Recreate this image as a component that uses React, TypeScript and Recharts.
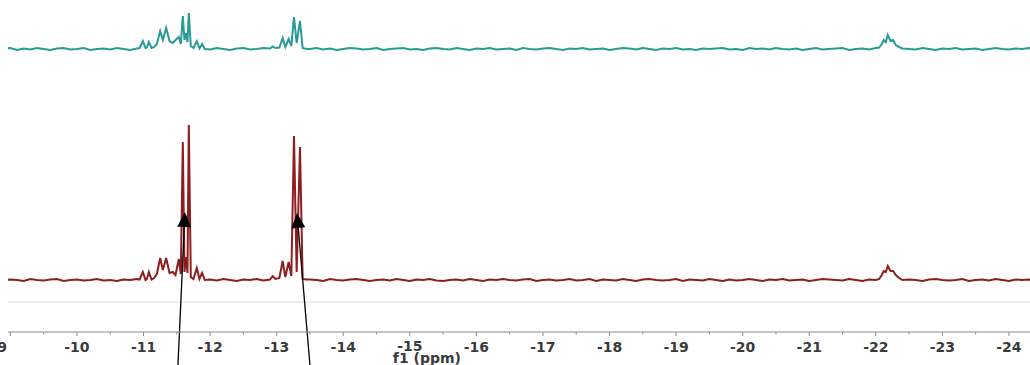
import React from 'react';
import { LineChart, Line, XAxis, YAxis, ReferenceLine } from 'recharts';

// chemical shift grid (ppm)
const ppm: number[] = [
  // baseline -8.9 .. -10.9
  -8.9, -9.0, -9.1, -9.2, -9.3, -9.4, -9.5, -9.6, -9.7, -9.8,
  -9.9, -10.0, -10.1, -10.2, -10.3, -10.4, -10.5, -10.6, -10.7, -10.8, -10.9,
  // multiplet group near -11.5
  -10.94, -10.99, -11.03, -11.05, -11.08, -11.12, -11.16, -11.2, -11.25, -11.29,
  -11.34, -11.39, -11.44, -11.48, -11.53, -11.56, -11.59, -11.615, -11.64, -11.66,
  -11.68, -11.71, -11.75, -11.8, -11.84, -11.88, -11.92,
  // baseline -12.0 .. -12.9
  -12.0, -12.1, -12.2, -12.3, -12.4, -12.5, -12.6, -12.7, -12.8, -12.9,
  // group near -13.2
  -12.94, -12.98, -13.04, -13.09, -13.13, -13.18, -13.22, -13.26, -13.3, -13.35, -13.39, -13.45,
  // baseline -13.5 .. -22.0
  -13.5, -13.6, -13.7, -13.8, -13.9, -14.0, -14.1, -14.2, -14.3, -14.4,
  -14.5, -14.6, -14.7, -14.8, -14.9, -15.0, -15.1, -15.2, -15.3, -15.4,
  -15.5, -15.6, -15.7, -15.8, -15.9, -16.0, -16.1, -16.2, -16.3, -16.4,
  -16.5, -16.6, -16.7, -16.8, -16.9, -17.0, -17.1, -17.2, -17.3, -17.4,
  -17.5, -17.6, -17.7, -17.8, -17.9, -18.0, -18.1, -18.2, -18.3, -18.4,
  -18.5, -18.6, -18.7, -18.8, -18.9, -19.0, -19.1, -19.2, -19.3, -19.4,
  -19.5, -19.6, -19.7, -19.8, -19.9, -20.0, -20.1, -20.2, -20.3, -20.4,
  -20.5, -20.6, -20.7, -20.8, -20.9, -21.0, -21.1, -21.2, -21.3, -21.4,
  -21.5, -21.6, -21.7, -21.8, -21.9, -22.0,
  // broad signal near -22.2
  -22.05, -22.09, -22.12, -22.15, -22.18, -22.22, -22.26, -22.3, -22.35, -22.4,
  // baseline -22.5 .. -24.4
  -22.5, -22.6, -22.7, -22.8, -22.9, -23.0, -23.1, -23.2, -23.3, -23.4,
  -23.5, -23.6, -23.7, -23.8, -23.9, -24.0, -24.1, -24.2, -24.3, -24.4,
];

// upper (teal) spectrum intensities
const tealIntensity: number[] = [
  0, 1, -1, 0.5, -0.5, 1, 0, -1, 0.5, 1,
  -0.5, 0, 1, -1, 0, 0.5, -0.5, 1, 0, -1, 0.5,
  1, 8, 1, 1.5, 7, 1, 2, 5, 18, 9,
  21, 8, 6, 9, 12, 5, 33, 9, 16, 7,
  36, 3, 1, 8, 0.5, 5, 0,
  -0.5, 1, 0, -1, 0.5, 1, -0.5, 0, 1, 0.5,
  2.5, 1, 1.5, 11, 2, 10, 3, 32, 6, 28, 1, 0,
  0, 1, -0.5, 0.5, -1, 0, 1, 0.5, -0.5, 0,
  1, -1, 0, 0.5, 1, -0.5, 0, -1, 0.5, 1,
  0, -0.5, 1, 0, -1, 0.5, 0, 1, -0.5, 0,
  0.5, -1, 1, 0, -0.5, 0.5, 1, 0, -1, 0.5,
  0, 1, -0.5, 0, 0.5, -1, 0, 1, 0.5, -0.5,
  1, 0, -1, 0.5, 0, 1, -0.5, 0, -1, 0.5,
  0, 0.5, 1, -0.5, 0, -1, 1, 0, 0.5, -0.5,
  1, 0, -0.5, 0.5, -1, 0, 1, -0.5, 0, 0.5,
  1, -1, 0, 0.5, -0.5, 1,
  1.5, 5, 9, 7, 14, 8, 9, 4, 2, 0.5,
  0, -0.5, 1, 0, -1, 0.5, 0, 1, -0.5, 0,
  0.5, -1, 0, 1, 0, -0.5, 0.5, 0, 1, -0.5,
];

// lower (dark red) spectrum intensities
const redIntensity: number[] = [
  -0.5, 0.5, 0, -1, 1, 0, -0.5, 0.5, 1, -1,
  0, 0.5, -0.5, 0, 1, -0.5, 0, -1, 0.5, 0, 1,
  0.5, 8, 0, 1, 8, 0.5, 2, 6, 22, 10,
  22, 7, 8, 5, 21, 6, 138, 8, 23, 7,
  155, 3, 1, 12, 1, 7, 0,
  0.5, -0.5, 1, 0, -1, 0.5, 0, 1, -0.5, 0.5,
  4, 1, 2, 19, 3, 18, 4, 144, 8, 133, 1, 0.5,
  0.5, 0, -1, 1, 0, -0.5, 0.5, 1, 0, -1,
  0, 0.5, -0.5, 1, 0, -1, 0.5, 0, 1, -0.5,
  -1, 0, 0.5, -0.5, 1, 0, -1, 0.5, 0, 1,
  0, -0.5, 0.5, 1, -1, 0, 0.5, -0.5, 0, 1,
  -0.5, 0, 1, -1, 0.5, 0, -0.5, 1, 0, -1,
  0.5, 1, 0, -0.5, 0, 1, -1, 0.5, 0, -0.5,
  1, 0, -1, 0.5, -0.5, 0, 1, 0, -1, 0.5,
  0, 1, -0.5, 0, 0.5, -1, 0, 1, 0.5, 0,
  -0.5, 1, 0, -1, 0.5, 0,
  1, 5, 9, 8, 14, 9, 9, 5, 2, 0,
  0.5, 0, -1, 0.5, 1, 0, -0.5, 0, 1, -1,
  0, 0.5, -0.5, 1, 0, -1, 0.5, 0, 0.5, -0.5,
];

// axis ticks (integers labelled, half-integers as minor ticks)
const xTicks: number[] = [
  -9, -9.5, -10, -10.5, -11, -11.5, -12, -12.5, -13, -13.5, -14, -14.5, -15, -15.5,
  -16, -16.5, -17, -17.5, -18, -18.5, -19, -19.5, -20, -20.5, -21, -21.5, -22, -22.5,
  -23, -23.5, -24,
];

const AXIS_TITLE = 'f1 (ppm)';

// arrow annotations: [tail ppm, tail y, tip ppm, tip y]
const arrows: [number, number, number, number][] = [
  [-11.517, -33, -11.622, 120],
  [-13.5, -33, -13.305, 119],
];

const TEAL_OFFSET = 283;
const RED_OFFSET = 52;
const SEPARATOR_LEVEL = 30;

const data = ppm.map((p, i) => ({
  ppm: p,
  teal: TEAL_OFFSET + tealIntensity[i],
  red: RED_OFFSET + redIntensity[i],
}));

const FONT = '"DejaVu Sans", Verdana, sans-serif';

const AxisTick = (props: any) => {
  const { x, y, payload } = props;
  const v = payload.value as number;
  const major = Number.isInteger(v);
  const first = v === -9;
  return (
    <g>
      <line x1={x} y1={y} x2={x} y2={y + (major ? 4 : 2.5)} stroke="#8c8c8c" strokeWidth={1} />
      {major && (
        <text
          x={first ? x - 3.5 : x}
          y={y + (v === -15 ? 18.5 : 20)}
          textAnchor={first ? 'end' : 'middle'}
          fontFamily={FONT}
          fontSize={14}
          fontWeight="bold"
          fill="#3a3a3a"
        >
          {String(v)}
        </text>
      )}
      {v === -15 && (
        <text
          x={x - 17}
          y={y + 30.5}
          textAnchor="start"
          fontFamily={FONT}
          fontSize={14}
          fontWeight="bold"
          fill="#3a3a3a"
        >
          {AXIS_TITLE}
        </text>
      )}
    </g>
  );
};

const Arrow = (props: any) => {
  const { x1, y1, x2, y2 } = props;
  const dx = x2 - x1;
  const dy = y2 - y1;
  const len = Math.sqrt(dx * dx + dy * dy) || 1;
  const ux = dx / len;
  const uy = dy / len;
  const headLen = 15;
  const halfW = 7;
  const bx = x2 - ux * headLen;
  const by = y2 - uy * headLen;
  const nx = -uy;
  const ny = ux;
  return (
    <g>
      <line x1={x1} y1={y1} x2={bx} y2={by} stroke="#000" strokeWidth={1.3} />
      <polygon
        points={`${x2},${y2} ${bx + nx * halfW},${by + ny * halfW} ${bx - nx * halfW},${by - ny * halfW}`}
        fill="#000"
      />
    </g>
  );
};

export default function App() {
  return (
    <div style={{ position: 'absolute', left: 0, top: 0, width: 1030, height: 365, background: '#fff', overflow: 'hidden' }}>
      <LineChart
        width={1030}
        height={365}
        data={data}
        margin={{ top: 0, right: 0, left: 8, bottom: 0 }}
      >
        <XAxis
          dataKey="ppm"
          type="number"
          domain={[-24.316, -8.964]}
          reversed
          allowDataOverflow
          ticks={xTicks}
          interval={0}
          tick={<AxisTick />}
          tickLine={false}
          tickSize={0}
          tickMargin={0}
          height={33}
          axisLine={{ stroke: '#8c8c8c', strokeWidth: 1 }}
        />
        <YAxis hide type="number" domain={[0, 332]} allowDataOverflow />
        <ReferenceLine y={SEPARATOR_LEVEL} stroke="#dcdcdc" strokeWidth={1} />
        <Line
          type="linear"
          dataKey="teal"
          stroke="#2a9a95"
          strokeWidth={2}
          dot={false}
          isAnimationActive={false}
        />
        <Line
          type="linear"
          dataKey="red"
          stroke="#8e1e1e"
          strokeWidth={2}
          dot={false}
          isAnimationActive={false}
        />
        {arrows.map((a, i) => (
          <ReferenceLine
            key={i}
            segment={[{ x: a[0], y: a[1] }, { x: a[2], y: a[3] }]}
            ifOverflow="visible"
            shape={<Arrow />}
          />
        ))}
      </LineChart>
    </div>
  );
}
